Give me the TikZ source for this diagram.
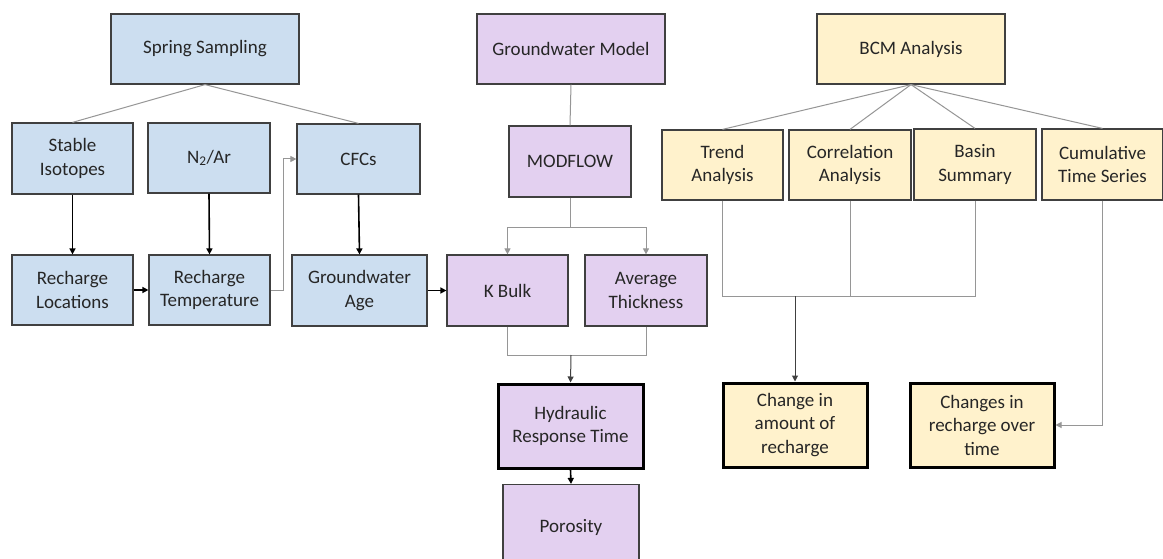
\documentclass[tikz,border=0pt]{standalone}
\usepackage{fontspec}
\setmainfont{Carlito}
\usetikzlibrary{arrows.meta}
\definecolor{bfill}{RGB}{204,222,240}
\definecolor{pfill}{RGB}{227,208,240}
\definecolor{yfill}{RGB}{255,242,204}
\definecolor{bord}{RGB}{64,64,64}
\definecolor{gl}{RGB}{150,150,150}
\tikzset{
  box/.style={draw=bord, line width=1.2pt, align=center, inner sep=2pt,
    font=\fontsize{19}{23.5}\selectfont, text=black!85},
  bb/.style={box, fill=bfill},
  pb/.style={box, fill=pfill},
  yb/.style={box, fill=yfill},
  thick box/.style={draw=black, line width=3pt},
  gline/.style={draw=gl, line width=1pt},
  garrow/.style={gline, -{Triangle[length=6pt,width=6pt]}},
  barrow/.style={draw=black, line width=1.6pt, -{Triangle[length=6pt,width=6pt]}},
}
\begin{document}
\begin{tikzpicture}[x=1pt,y=-1pt]
\useasboundingbox[fill=white] (0,0) rectangle (1163,559);
% left column
\node[bb, minimum width=188pt, minimum height=70pt] (ss) at (205,49) {Spring Sampling};
\node[bb, minimum width=121pt, minimum height=71pt] (si) at (72.5,158.5) {Stable\\Isotopes};
\node[bb, minimum width=122pt, minimum height=70pt] (n2) at (209,158) {N\textsubscript{2}/Ar};
\node[bb, minimum width=123pt, minimum height=70pt] (cfc) at (358.5,159) {CFCs};
\node[bb, minimum width=121pt, minimum height=70pt] (rl) at (72.5,290) {Recharge\\Locations};
\node[bb, minimum width=121pt, minimum height=70pt] (rt) at (209.5,290) {Recharge\\Temperature};
\node[bb, minimum width=135pt, minimum height=71pt] (ga) at (359.5,290.5) {Groundwater\\Age};
% middle column
\node[pb, minimum width=188pt, minimum height=70pt] (gm) at (571,49) {Groundwater Model};
\node[pb, minimum width=122pt, minimum height=71pt] (mf) at (570,161.5) {MODFLOW};
\node[pb, minimum width=121pt, minimum height=71pt] (kb) at (507.5,290.5) {K Bulk};
\node[pb, minimum width=122pt, minimum height=71pt] (at) at (646,290.5) {Average\\Thickness};
\node[pb, thick box, minimum width=145pt, minimum height=84pt] (hr) at (570.5,426) {Hydraulic\\Response Time};
\node[pb, minimum width=136pt, minimum height=85pt] (po) at (571,527) {Porosity};
% right column
\node[yb, minimum width=188pt, minimum height=70pt] (bcm) at (911,49) {BCM Analysis};
\node[yb, minimum width=121pt, minimum height=70pt] (ta) at (722.5,165) {Trend\\Analysis};
\node[yb, minimum width=122pt, minimum height=70pt] (ca) at (850,165) {Correlation\\Analysis};
\node[yb, minimum width=122pt, minimum height=71pt] (bs) at (975,164.5) {Basin\\Summary};
\node[yb, minimum width=121pt, minimum height=71pt] (ct) at (1102.5,164.5) {Cumulative\\Time Series};
\node[yb, thick box, minimum width=144pt, minimum height=84pt] (cam) at (795,425) {Change in\\amount of\\recharge};
\node[yb, thick box, minimum width=144pt, minimum height=84pt] (cro) at (982,425) {Changes in\\recharge over\\time};
% junctions
\coordinate (j1) at (571,355);
\coordinate (j2) at (795,296);
% connectors left
\draw[gline] (ss.south) -- (si.north);
\draw[gline] (ss.south) -- (cfc.north);
\draw[barrow] (si.south) -- (rl.north);
\draw[barrow] (n2.south) -- (rt.north);
\draw[barrow] (cfc.south) -- (ga.north);
\draw[barrow] (rl.east) -- (rt.west);
\draw[garrow] (rt.east) -- ++(13,0) |- (cfc.west);
\draw[barrow] (ga.east) -- (kb.west);
% connectors middle
\draw[gline] (gm.south) -- (mf.north);
\draw[garrow] (mf.south) -- ++(0,30) -| (kb.north);
\draw[garrow] (mf.south) -- ++(0,30) -| (at.north);
\draw[gline] (kb.south) |- (j1);
\draw[gline] (at.south) |- (j1);
\draw[garrow, draw=bord] (j1) -- (hr.north);
\draw[barrow] (hr.south) -- (po.north);
% connectors right
\draw[gline] (bcm.south) -- (ta.north);
\draw[gline] (bcm.south) -- (ca.north);
\draw[gline] (bcm.south) -- (bs.north);
\draw[gline] (bcm.south) -- (ct.north);
\draw[gline] (ta.south) |- (j2);
\draw[gline] (bs.south) |- (j2);
\draw[gline] (ca.south) -- (ca.south |- j2);
\draw[garrow, draw=bord] (j2) -- (cam.north);
\draw[garrow] (ct.south) |- (cro.east);
\end{tikzpicture}
\end{document}
